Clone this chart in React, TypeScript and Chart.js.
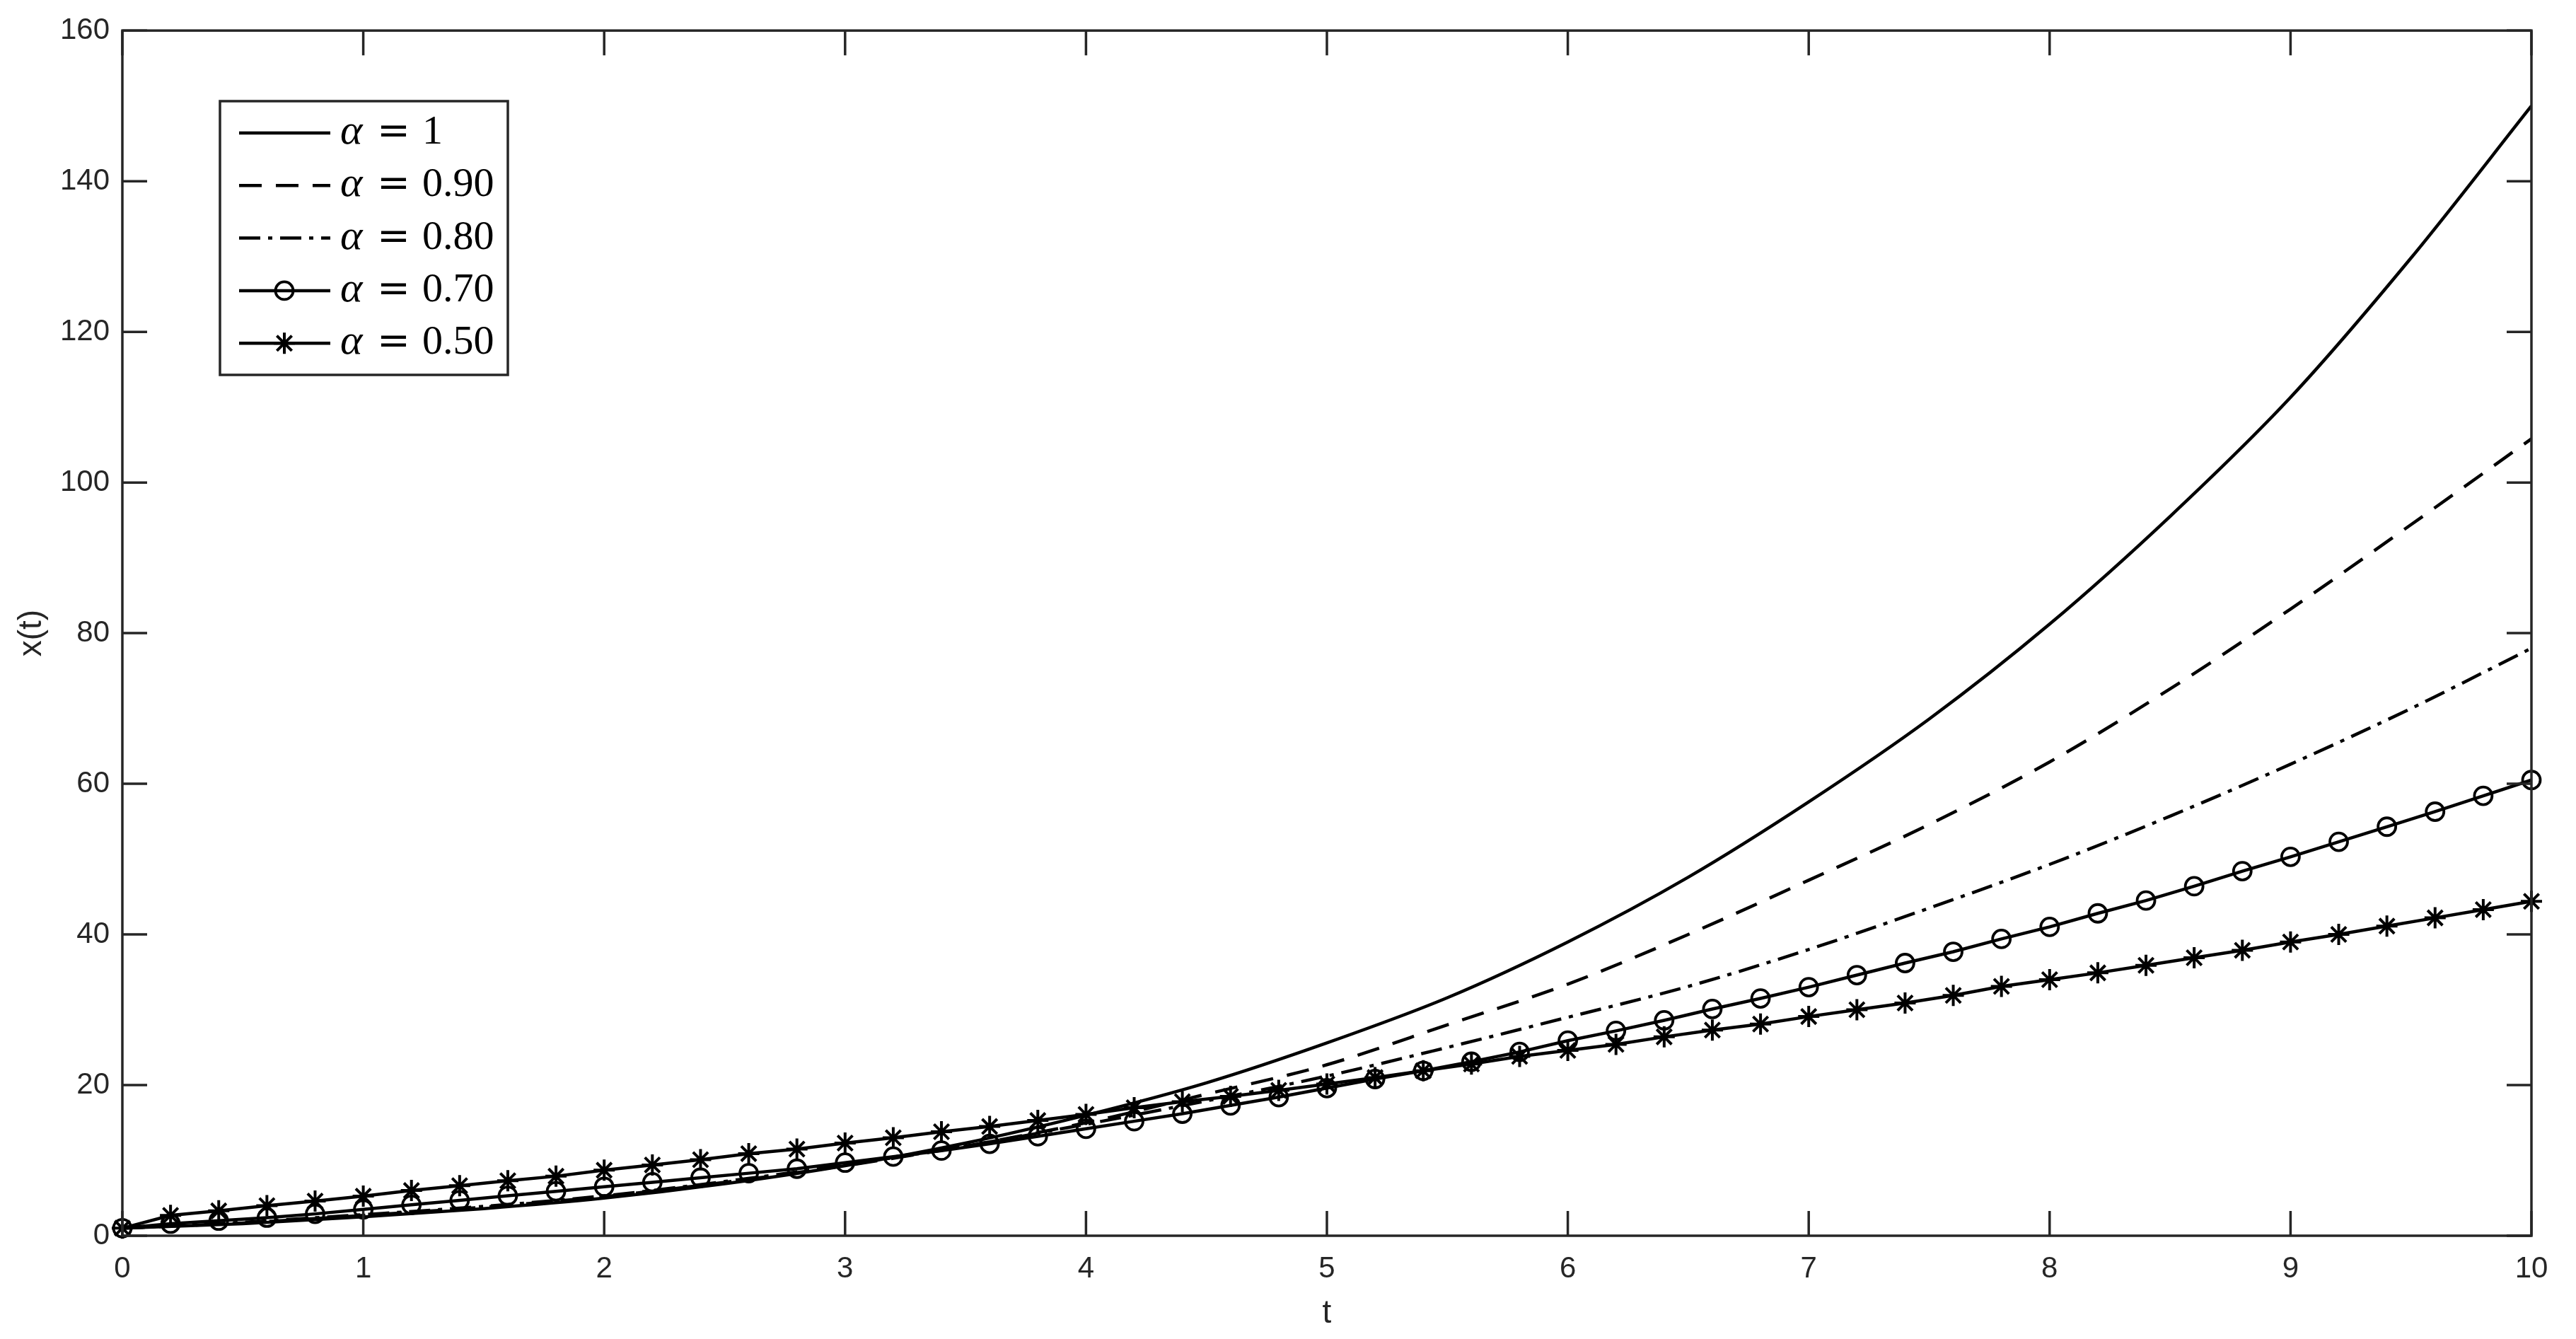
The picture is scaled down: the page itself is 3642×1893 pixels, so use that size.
import React, { useEffect, useRef } from "react";
import { Chart, registerables } from "chart.js";

Chart.register(...registerables);

const W = 3642;
const H = 1893;

// ---- data ----
const tCoarse = [0, 0.5, 1, 1.5, 2, 2.5, 3, 3.5, 4, 4.5, 5, 5.5, 6, 6.5, 7, 7.5, 8, 8.5, 9, 9.5, 10];
const alpha1 = [1.0, 1.6, 2.5, 3.6, 5.0, 6.9, 9.3, 12.3, 16.0, 20.3, 25.6, 31.6, 39.0, 47.6, 57.6, 68.6, 81.2, 95.5, 111.3, 129.8, 150.0];
const alpha09 = [1.0, 1.7, 2.7, 3.8, 5.2, 7.1, 9.3, 11.9, 15.0, 18.8, 22.7, 28.0, 33.4, 40.0, 47.2, 54.6, 62.9, 72.6, 83.2, 94.4, 105.8];
const alpha08 = [1.0, 1.8, 2.8, 3.9, 5.3, 7.2, 9.4, 11.9, 14.8, 17.9, 21.2, 25.0, 29.0, 33.1, 38.0, 43.5, 49.3, 55.7, 62.6, 70.0, 78.0];

const tFine = [
  0, 0.2, 0.4, 0.6, 0.8, 1, 1.2, 1.4, 1.6, 1.8,
  2, 2.2, 2.4, 2.6, 2.8, 3, 3.2, 3.4, 3.6, 3.8,
  4, 4.2, 4.4, 4.6, 4.8, 5, 5.2, 5.4, 5.6, 5.8,
  6, 6.2, 6.4, 6.6, 6.8, 7, 7.2, 7.4, 7.6, 7.8,
  8, 8.2, 8.4, 8.6, 8.8, 9, 9.2, 9.4, 9.6, 9.8, 10,
];
const alpha07 = [
  1.0, 1.6, 2.0, 2.4, 2.9, 3.5, 4.1, 4.7, 5.3, 5.9,
  6.5, 7.1, 7.7, 8.3, 8.9, 9.7, 10.5, 11.3, 12.2, 13.2,
  14.2, 15.2, 16.2, 17.3, 18.4, 19.6, 20.8, 21.9, 23.1, 24.4,
  25.9, 27.2, 28.6, 30.1, 31.5, 33.0, 34.6, 36.2, 37.7, 39.4,
  41.0, 42.8, 44.5, 46.4, 48.4, 50.3, 52.3, 54.3, 56.3, 58.4, 60.5,
];
const alpha05 = [
  1.0, 2.7, 3.3, 4.0, 4.6, 5.25, 6.0, 6.65, 7.3, 7.9,
  8.7, 9.4, 10.1, 10.9, 11.5, 12.3, 13.0, 13.8, 14.5, 15.3,
  16.1, 17.0, 17.8, 18.5, 19.3, 20.15, 21.0, 21.9, 22.8, 23.8,
  24.6, 25.4, 26.4, 27.3, 28.1, 29.1, 30.0, 30.9, 31.9, 33.1,
  34.0, 34.9, 35.9, 36.9, 37.9, 39.0, 40.0, 41.1, 42.2, 43.3, 44.4,
];

const legendValues = ["1", "0.90", "0.80", "0.70", "0.50"];
const xTicks = [0, 1, 2, 3, 4, 5, 6, 7, 8, 9, 10];
const yTicks = [0, 20, 40, 60, 80, 100, 120, 140, 160];
const xTitle = "t";
const yTitle = "x(t)";

const AXIS = "#262626";
const TICK_FONT = { family: '"Liberation Sans", Arial, sans-serif', size: 42 };
const TITLE_FONT = { family: '"Liberation Sans", Arial, sans-serif', size: 46 };

const toPoints = (xs: number[], ys: number[]) => xs.map((x, i) => ({ x, y: ys[i] }));

function drawMarker(ctx: CanvasRenderingContext2D, style: string, x: number, y: number, r: number, lw: number) {
  ctx.save();
  ctx.setLineDash([]);
  ctx.lineWidth = lw;
  ctx.strokeStyle = "#000";
  ctx.beginPath();
  if (style === "circle") {
    ctx.arc(x, y, r, 0, Math.PI * 2);
  } else if (style === "star") {
    for (let k = 0; k < 4; k++) {
      const a = (k * Math.PI) / 4;
      ctx.moveTo(x - Math.cos(a) * r, y - Math.sin(a) * r);
      ctx.lineTo(x + Math.cos(a) * r, y + Math.sin(a) * r);
    }
  }
  ctx.stroke();
  ctx.restore();
}

const framePlugin = {
  id: "matlabFrame",
  afterDraw(chart: any) {
    const { ctx, chartArea } = chart;
    const { left, right, top, bottom } = chartArea;
    const xs = chart.scales.x;
    const ys = chart.scales.y;
    const TL = 35;
    ctx.save();
    ctx.strokeStyle = AXIS;
    ctx.lineWidth = 3.5;
    ctx.setLineDash([]);
    ctx.beginPath();
    xTicks.forEach((v) => {
      const px = xs.getPixelForValue(v);
      ctx.moveTo(px, bottom);
      ctx.lineTo(px, bottom - TL);
      ctx.moveTo(px, top);
      ctx.lineTo(px, top + TL);
    });
    yTicks.forEach((v) => {
      const py = ys.getPixelForValue(v);
      ctx.moveTo(left, py);
      ctx.lineTo(left + TL, py);
      ctx.moveTo(right, py);
      ctx.lineTo(right - TL, py);
    });
    ctx.stroke();
    ctx.strokeRect(left, top, right - left, bottom - top);

    // legend
    const bx = 311, by = 143, bw = 407, bh = 387;
    ctx.fillStyle = "#fff";
    ctx.fillRect(bx, by, bw, bh);
    ctx.lineWidth = 3.5;
    ctx.strokeStyle = AXIS;
    ctx.strokeRect(bx, by, bw, bh);
    chart.data.datasets.forEach((ds: any, i: number) => {
      const y = 188 + i * 74.3;
      ctx.save();
      ctx.strokeStyle = "#000";
      ctx.lineWidth = ds.borderWidth;
      ctx.setLineDash(ds.borderDash || []);
      ctx.beginPath();
      ctx.moveTo(338, y);
      ctx.lineTo(467, y);
      ctx.stroke();
      ctx.restore();
      if (ds.pointRadius > 0) {
        drawMarker(ctx, ds.pointStyle, 402, y, ds.pointRadius, ds.pointBorderWidth);
      }
      ctx.fillStyle = "#000";
      ctx.textBaseline = "alphabetic";
      ctx.textAlign = "left";
      ctx.font = 'italic 60px "Liberation Serif", "DejaVu Serif", serif';
      ctx.fillText("α", 481, y + 15);
      ctx.font = '56px "DejaVu Serif", "Liberation Serif", serif';
      ctx.fillText("=", 533, y + 15);
      ctx.font = '58px "Liberation Serif", "DejaVu Serif", serif';
      ctx.fillText(legendValues[i], 597, y + 15);
    });
    ctx.restore();
  },
};

export default function App() {
  const ref = useRef<HTMLCanvasElement | null>(null);

  useEffect(() => {
    if (!ref.current) return;
    document.body.style.margin = "0";
    const common = { fill: false, borderColor: "#000", backgroundColor: "#000" };
    const chart = new Chart(ref.current, {
      type: "line",
      data: {
        datasets: [
          {
            ...common,
            label: "α = " + legendValues[0],
            data: toPoints(tCoarse, alpha1),
            borderWidth: 4.5,
            pointRadius: 0,
            cubicInterpolationMode: "monotone",
          },
          {
            ...common,
            label: "α = " + legendValues[1],
            data: toPoints(tCoarse, alpha09),
            borderWidth: 4.5,
            borderDash: [32, 20],
            pointRadius: 0,
            cubicInterpolationMode: "monotone",
          },
          {
            ...common,
            label: "α = " + legendValues[2],
            data: toPoints(tCoarse, alpha08),
            borderWidth: 4.5,
            borderDash: [30, 11, 6, 11],
            pointRadius: 0,
            cubicInterpolationMode: "monotone",
          },
          {
            ...common,
            label: "α = " + legendValues[3],
            data: toPoints(tFine, alpha07),
            borderWidth: 4.5,
            pointStyle: "circle",
            pointRadius: 12.5,
            pointBorderWidth: 3.8,
            pointBackgroundColor: "rgba(0,0,0,0)",
            pointBorderColor: "#000",
            tension: 0,
            clip: false,
          },
          {
            ...common,
            label: "α = " + legendValues[4],
            data: toPoints(tFine, alpha05),
            borderWidth: 4.5,
            pointStyle: "star",
            pointRadius: 15,
            pointBorderWidth: 4,
            pointBackgroundColor: "rgba(0,0,0,0)",
            pointBorderColor: "#000",
            tension: 0,
            clip: false,
          },
        ] as any,
      },
      options: {
        responsive: false,
        animation: false,
        devicePixelRatio: 1,
        layout: { padding: { top: 40, right: 63, left: 0, bottom: 0 } },
        plugins: {
          legend: { display: false },
          tooltip: { enabled: false },
        },
        elements: { point: { hoverRadius: 0 } },
        scales: {
          x: {
            type: "linear",
            min: 0,
            max: 10,
            afterBuildTicks: (s: any) => {
              s.ticks = xTicks.map((v) => ({ value: v }));
            },
            afterFit: (s: any) => {
              s.height = H - 1747;
            },
            grid: { display: false, drawTicks: false },
            border: { display: false },
            ticks: {
              font: TICK_FONT,
              color: AXIS,
              padding: 22,
              maxRotation: 0,
              autoSkip: false,
              callback: (v: any) => String(v),
            },
            title: {
              display: true,
              text: xTitle,
              font: TITLE_FONT,
              color: AXIS,
              padding: { top: 0, bottom: 8 },
            },
          },
          y: {
            type: "linear",
            min: 0,
            max: 160,
            afterBuildTicks: (s: any) => {
              s.ticks = yTicks.map((v) => ({ value: v }));
            },
            afterFit: (s: any) => {
              s.width = 173;
            },
            grid: { display: false, drawTicks: false },
            border: { display: false },
            ticks: {
              font: TICK_FONT,
              color: AXIS,
              padding: 18,
              autoSkip: false,
              callback: (v: any) => String(v),
            },
            title: {
              display: true,
              text: yTitle,
              font: TITLE_FONT,
              color: AXIS,
              padding: { top: 18, bottom: 0 },
            },
          },
        },
      },
      plugins: [framePlugin],
    });
    return () => chart.destroy();
  }, []);

  return (
    <div style={{ position: "absolute", left: 0, top: 0, width: W, height: H, background: "#fff" }}>
      <canvas ref={ref} width={W} height={H} style={{ display: "block", width: W, height: H }} />
    </div>
  );
}
